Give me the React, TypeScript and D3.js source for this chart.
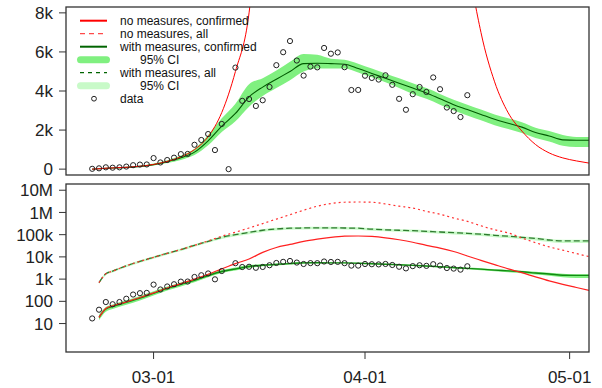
import React from "react";
import * as d3 from "d3";

const W = 602;
const H = 388;

// Observed daily new confirmed cases, one value per day starting 2020-02-21
const observedStart = "2020-02-21";
const observed = [
  17, 42, 93, 74, 93, 131, 202, 233, 240,
  566, 342, 466, 587, 769, 778, 1247, 1492, 1797, 977, 2313, 0, 5198,
  3497, 3590, 3233, 3526, 4207, 5322, 5986, 6557, 5560, 4789, 5249, 5210,
  6203, 5909, 5974, 5217, 4050, 4053,
  4782, 4668, 4585, 4805, 4316, 3599, 3039, 3836, 4204, 3951, 4694, 4092,
  3153, 2972, 2667, 3786,
];

// Model output, days counted from 2020-03-01
const modelDay = [
  -9, -8, -7, -6, -4, -2, 0, 2, 4, 6, 8, 10, 12, 14, 16, 18, 20, 22, 24, 26,
  28, 30, 32, 34, 36, 38, 40, 42, 44, 46, 48, 50, 52, 54, 56, 58, 60, 62, 64,
];

const noMeasuresConfirmed = [
  0, 19, 48, 63, 95, 148, 240, 400, 630, 1000, 1660, 2900, 5000, 8000, 16000,
  26500, 36300, 50100, 63100, 75900, 85100, 87100, 83200, 72400, 58900, 45700,
  33100, 25000, 17500, 11000, 7000, 4470, 2880, 1950, 1260, 830, 575, 420, 300,
];

const noMeasuresAll = [
  0, 690, 1740, 2290, 3980, 6310, 9550, 14500, 21400, 33100, 52500, 85100,
  129000, 200000, 316000, 501000, 794000, 1260000, 1910000, 2510000, 2880000,
  2950000, 2880000, 2400000, 1910000, 1580000, 1120000, 832000, 562000, 398000,
  251000, 166000, 120000, 70800, 43700, 28200, 20000, 14100, 10000,
];

const withConfirmed = [
  0, 19, 45, 58, 90, 140, 230, 380, 580, 870, 1450, 2200, 2850, 3700, 4200,
  4600, 5000, 5400, 5420, 5400, 5370, 5150, 4900, 4650, 4400, 4150, 3900, 3600,
  3300, 3050, 2800, 2550, 2350, 2150, 1880, 1700, 1500, 1480, 1480,
];
const withConfirmedLo = [
  0, 14, 34, 45, 70, 110, 185, 310, 470, 720, 1220, 1900, 2450, 3200, 3750,
  4150, 4550, 5000, 5150, 5150, 5150, 4950, 4700, 4450, 4150, 3850, 3600, 3300,
  3000, 2750, 2500, 2250, 2050, 1850, 1600, 1420, 1200, 1130, 1130,
];
const withConfirmedHi = [
  0, 25, 56, 72, 112, 175, 285, 460, 700, 1050, 1750, 2600, 3350, 4350, 4650,
  5050, 5500, 5900, 5850, 5650, 5600, 5400, 5150, 4900, 4650, 4400, 4150, 3850,
  3550, 3300, 3050, 2800, 2600, 2400, 2120, 1950, 1750, 1650, 1650,
];

const withAll = [
  0, 690, 1740, 2290, 3980, 6310, 9550, 14500, 21400, 33100, 50100, 75900,
  100000, 126000, 158000, 182000, 195000, 200000, 204000, 204000, 200000,
  195000, 178000, 166000, 158000, 151000, 141000, 132000, 123000, 115000,
  105000, 93300, 85100, 75900, 67600, 57500, 52500, 52500, 52500,
];
const withAllLo = [
  0, 590, 1500, 1970, 3420, 5430, 8210, 12500, 18400, 28500, 43100, 64500,
  84000, 105000, 132000, 153000, 165000, 170000, 174000, 174000, 170000,
  166000, 151000, 141000, 134000, 128000, 119000, 111000, 103000, 96000,
  87000, 77000, 70000, 62000, 55000, 46500, 42000, 42000, 42000,
];
const withAllHi = [
  0, 770, 1950, 2560, 4460, 7070, 10700, 16200, 24000, 37100, 56100, 85000,
  112000, 141000, 177000, 204000, 218000, 224000, 228000, 228000, 224000,
  218000, 199000, 186000, 177000, 169000, 158000, 148000, 138000, 129000,
  118000, 104000, 95000, 85000, 76000, 64000, 58500, 58500, 58500,
];

// Axis ticks
const xTickDates = ["2020-03-01", "2020-04-01", "2020-05-01"];
const linTicks = [0, 2000, 4000, 6000, 8000];
const linTickLabels = ["0", "2k", "4k", "6k", "8k"];
const logTicks = [10, 100, 1e3, 1e4, 1e5, 1e6, 1e7];
const logTickLabels = ["10", "100", "1k", "10k", "100k", "1M", "10M"];

// Time span covered by the plots (padded 4% on each side)
const xSpan = ["2020-02-20", "2020-05-01"];

const legendItems = [
  { label: "no measures, confirmed", kind: "line", color: "#ff0000", dash: "" },
  { label: "no measures, all", kind: "line", color: "#ff4a4a", dash: "5,4" },
  { label: "with measures, confirmed", kind: "line", color: "#006400", dash: "" },
  { label: "      95% CI", kind: "band", color: "#80f080", dash: "" },
  { label: "with measures, all", kind: "line", color: "#006400", dash: "4,4" },
  { label: "      95% CI", kind: "band", color: "#c8fac8", dash: "" },
  { label: "data", kind: "point", color: "#222", dash: "" },
];

const FONT = "'Liberation Sans', Arial, Helvetica, sans-serif";
const LEFT = 66;
const RIGHT = 589;
const TOP1 = 7;
const BOT1 = 175;
const TOP2 = 184;
const BOT2 = 352;

const parse = d3.utcParse("%Y-%m-%d");
const march1 = parse("2020-03-01") as Date;
const dayDate = (d: number) => d3.utcDay.offset(march1, d);

export default function App() {
  const s0 = parse(xSpan[0]) as Date;
  const s1 = parse(xSpan[1]) as Date;
  const pad = (s1.getTime() - s0.getTime()) * 0.04;
  const x = d3
    .scaleUtc()
    .domain([new Date(s0.getTime() - pad), new Date(s1.getTime() + pad)])
    .range([LEFT, RIGHT]);

  const yLin = d3.scaleLinear().domain([-300, 8300]).range([BOT1, TOP1]);
  const yLog = d3
    .scaleLog()
    .domain([Math.pow(10, -0.28), Math.pow(10, 7.28)])
    .range([BOT2, TOP2]);

  type P = [Date, number];
  const series = (vals: number[]): P[] =>
    modelDay.map((d, i) => [dayDate(d), vals[i]] as P);

  const lineLin = d3
    .line<P>()
    .x((p) => x(p[0]))
    .y((p) => yLin(p[1]))
    .curve(d3.curveMonotoneX);
  const lineLog = d3
    .line<P>()
    .defined((p) => p[1] > 0)
    .x((p) => x(p[0]))
    .y((p) => yLog(p[1]))
    .curve(d3.curveMonotoneX);

  type B = [Date, number, number];
  const band = (lo: number[], hi: number[]): B[] =>
    modelDay.map((d, i) => [dayDate(d), lo[i], hi[i]] as B);
  const areaLin = d3
    .area<B>()
    .x((p) => x(p[0]))
    .y0((p) => yLin(p[1]))
    .y1((p) => yLin(p[2]))
    .curve(d3.curveMonotoneX);
  const areaLog = d3
    .area<B>()
    .defined((p) => p[1] > 0)
    .x((p) => x(p[0]))
    .y0((p) => yLog(p[1]))
    .y1((p) => yLog(p[2]))
    .curve(d3.curveMonotoneX);

  const obs0 = parse(observedStart) as Date;
  const obsPts = observed.map((v, i) => ({ date: d3.utcDay.offset(obs0, i), v }));

  const labelStyle = { fontFamily: FONT, fontSize: 17, fill: "#222" };
  const boxStroke = "#333";

  return (
    <svg
      width={W}
      height={H}
      style={{ position: "absolute", left: 0, top: 0, background: "#fff" }}
    >
      <defs>
        <clipPath id="clipTop">
          <rect x={LEFT} y={TOP1} width={RIGHT - LEFT} height={BOT1 - TOP1} />
        </clipPath>
        <clipPath id="clipBot">
          <rect x={LEFT} y={TOP2} width={RIGHT - LEFT} height={BOT2 - TOP2} />
        </clipPath>
      </defs>
      <rect width={W} height={H} fill="#fff" />

      {/* Upper panel: linear daily counts */}
      <g clipPath="url(#clipTop)">
        <path
          d={areaLin(band(withConfirmedLo, withConfirmedHi)) || ""}
          fill="#80f080"
        />
        <path
          d={lineLin(series(withConfirmed)) || ""}
          fill="none"
          stroke="#005a00"
          strokeWidth={1.1}
        />
        <path
          d={lineLin(series(noMeasuresConfirmed)) || ""}
          fill="none"
          stroke="#ff0000"
          strokeWidth={1}
        />
        {obsPts.map((p, i) => (
          <circle
            key={i}
            cx={x(p.date)}
            cy={yLin(p.v)}
            r={2.6}
            fill="none"
            stroke="#222"
            strokeWidth={1}
          />
        ))}
      </g>
      <rect
        x={LEFT}
        y={TOP1}
        width={RIGHT - LEFT}
        height={BOT1 - TOP1}
        fill="none"
        stroke={boxStroke}
        strokeWidth={1.3}
      />
      {linTicks.map((t, i) => (
        <g key={t}>
          <line x1={LEFT - 7} x2={LEFT} y1={yLin(t)} y2={yLin(t)} stroke={boxStroke} />
          <text x={53} y={yLin(t)} dy="0.36em" textAnchor="end" {...labelStyle}>
            {linTickLabels[i]}
          </text>
        </g>
      ))}

      {/* Legend */}
      {legendItems.map((it, i) => {
        const cy = 20.7 + i * 13;
        return (
          <g key={i}>
            {it.kind === "line" && (
              <line
                x1={80}
                x2={107}
                y1={cy}
                y2={cy}
                stroke={it.color}
                strokeWidth={it.dash ? 1.3 : 2}
                strokeDasharray={it.dash || undefined}
              />
            )}
            {it.kind === "band" && (
              <line
                x1={80.5}
                x2={106.5}
                y1={cy}
                y2={cy}
                stroke={it.color}
                strokeWidth={7}
                strokeLinecap="round"
              />
            )}
            {it.kind === "point" && (
              <circle cx={94} cy={cy} r={2.4} fill="none" stroke={it.color} strokeWidth={1} />
            )}
            <text
              x={120}
              y={cy}
              dy="0.36em"
              fontFamily={FONT}
              fontSize={12}
              fill="#111"
              style={{ whiteSpace: "pre" }}
            >
              {it.label}
            </text>
          </g>
        );
      })}

      {/* Lower panel: log daily counts */}
      <g clipPath="url(#clipBot)">
        <path d={areaLog(band(withAllLo, withAllHi)) || ""} fill="#c8fac8" />
        <path
          d={areaLog(band(withConfirmedLo, withConfirmedHi)) || ""}
          fill="#80f080"
        />
        <path
          d={lineLog(series(withAll)) || ""}
          fill="none"
          stroke="#2f7a2f"
          strokeWidth={1.3}
          strokeDasharray="6,3"
        />
        <path
          d={lineLog(series(withConfirmed)) || ""}
          fill="none"
          stroke="#128a12"
          strokeWidth={1.4}
        />
        <path
          d={lineLog(series(noMeasuresAll)) || ""}
          fill="none"
          stroke="#ff3030"
          strokeWidth={1.2}
          strokeDasharray="2,3"
        />
        <path
          d={lineLog(series(noMeasuresConfirmed)) || ""}
          fill="none"
          stroke="#ff2020"
          strokeWidth={1.2}
        />
        {obsPts
          .filter((p) => p.v > 0)
          .map((p, i) => (
            <circle
              key={i}
              cx={x(p.date)}
              cy={yLog(p.v)}
              r={2.6}
              fill="none"
              stroke="#222"
              strokeWidth={1}
            />
          ))}
      </g>
      <rect
        x={LEFT}
        y={TOP2}
        width={RIGHT - LEFT}
        height={BOT2 - TOP2}
        fill="none"
        stroke={boxStroke}
        strokeWidth={1.3}
      />
      {logTicks.map((t, i) => (
        <g key={t}>
          <line x1={LEFT - 7} x2={LEFT} y1={yLog(t)} y2={yLog(t)} stroke={boxStroke} />
          <text x={53} y={yLog(t)} dy="0.36em" textAnchor="end" {...labelStyle}>
            {logTickLabels[i]}
          </text>
        </g>
      ))}
      {xTickDates.map((s) => {
        const dt = parse(s) as Date;
        const px = x(dt);
        return (
          <g key={s}>
            <line x1={px} x2={px} y1={BOT2} y2={BOT2 + 7} stroke={boxStroke} />
            <text x={px} y={383} textAnchor="middle" {...labelStyle}>
              {d3.utcFormat("%m-%d")(dt)}
            </text>
          </g>
        );
      })}
    </svg>
  );
}
